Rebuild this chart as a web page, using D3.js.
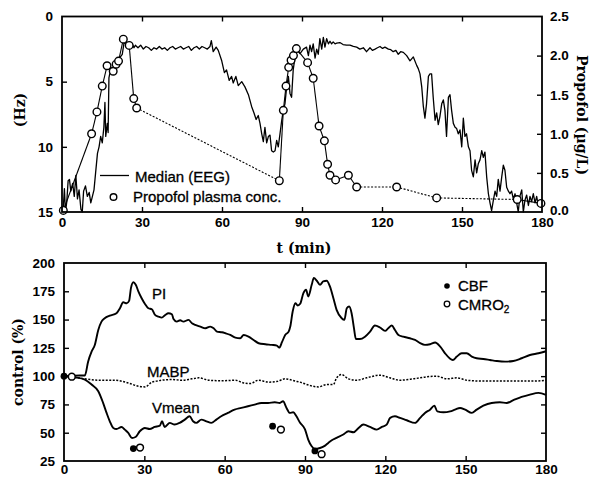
<!DOCTYPE html>
<html><head><meta charset="utf-8">
<script src="https://cdn.jsdelivr.net/npm/d3@7"></script>
<style>body{margin:0;background:#fff} svg{display:block}</style>
</head><body><svg id="c" width="599" height="478"></svg>
<script>
// ---------- DATA ----------
const timeTicks = [0, 30, 60, 90, 120, 150, 180];
const hzTicks = [0, 5, 10, 15];
const propofolTicks = [0, 0.5, 1.0, 1.5, 2.0, 2.5];
const controlTicks = [25, 50, 75, 100, 125, 150, 175, 200];

// EEG median frequency [t (min), Hz]
const eegMedian = [
[0,15],[0.5,14.6],[0.9,13.2],[1.3,15],[1.8,14.2],[2.3,12.6],[2.8,12.5],[3.3,13.4],[4,12.8],[4.6,13.8],[5.2,12.2],[5.8,14],[6.4,13.3],[7.1,14.8],[7.6,15],[8.1,13.4],[8.8,13],[9.5,13.8],[10.2,13.5],[10.8,14.3],[11.4,13.8],[12,13.3],[12.6,12],[13.3,10.5],[13.9,10],[14.5,9.2],[15.1,9.7],[15.7,8.5],[16.1,6.6],[16.4,9.2],[17,8.2],[17.3,8.9],[17.6,4.7],[18.2,4.1],[18.8,4.0],[19.5,3.9],[20.1,3.7],[20.7,3.5],[21.3,3.4],[21.9,3.1],[22.6,2.9],[23.2,2.1],[23.8,2.0],[24.4,2.4],[25,2.0],[25.6,2.3],[26.3,2.1],[27,2.4],[27.5,2.2],
[28.5,2.4],[29.5,2.2],[30.5,2.5],[31.5,2.3],[32.5,2.4],[33.5,2.6],[34.5,2.4],[35.5,2.5],[36.5,2.3],[37.5,2.5],[38.5,2.4],[39.5,2.6],[40.5,2.4],[41.5,2.3],[42.5,2.5],[43.5,2.4],[44.5,2.3],[45.5,2.5],[46.5,2.4],[47.5,2.3],[48.5,2.6],[49.5,2.4],[50.5,2.3],[51.5,2.5],[52.5,2.3],[53.5,2.4],[54.5,2.5],[55.5,2.3],
[56,1.85],[56.7,2.7],[57.8,2.35],[58.6,2.6],[59.9,3.4],[60.9,4.3],[61.7,4.1],[62.7,4.9],[63.6,4.6],[64.2,5.1],[65.2,4.6],[66.1,5.3],[67.4,5.0],[68.6,5.4],[69.9,6.0],[71.1,6.9],[72,7.4],[72.8,7.9],[73.6,7.6],[74.25,8.2],[74.9,9.0],[75.5,9.6],[76.1,8.5],[76.75,9.7],[77.4,9.2],[78,9.1],[78.6,10.3],[79.25,10.4],[79.9,10.3],[80.5,9.5],[81.1,10],[81.75,9.0],[82.4,7.96],[83,7.2],[83.6,6.7],[84.25,5.4],[84.9,4.6],[85.5,5.9],[86.1,6.2],[86.7,4.1],[87.4,3.1],[88.2,2.6],[89.25,2.85],[90.5,2.5],[91.7,2.35],[92.4,3.0],[93,2.2],[93.6,2.7],[94.2,2.1],[94.9,3.2],[95.5,2.5],[96.1,2.9],[96.7,1.7],[97.4,2.5],[98,1.6],[98.6,2.35],[99.25,1.7],[99.9,2.1],[100.5,1.9],[101.1,2.1],[101.7,1.95],[102.4,2.1],[103,2.05],[104.2,2.0],[105.4,2.15],[106.7,2.2],[108,2.2],[109.25,2.3],[110.5,2.35],[111.7,2.5],[113,2.4],[114.2,2.7],[115.5,2.4],[116.4,2.6],[117.4,2.5],[118.3,2.4],[119.25,2.3],[120.2,2.45],[121.1,2.35],[122.4,2.5],[123.3,2.55],[124.2,2.7],[125.2,2.6],[126.1,2.9],[127,2.7],[128,2.75],[129.25,3.0],[130.5,3.4],[131.75,3.1],[133,3.75],[133.6,4.0],[134.25,4.4],[134.9,5.4],[135.5,6.9],[136.1,7.8],[136.7,6.7],[137.4,4.6],[138,4.4],
[138.6,4.4],[139.2,6.2],[139.9,7.96],[140.5,7.4],[141.1,8.3],[141.7,7.7],[142.4,6.7],[143,6.4],[143.6,7.2],[144.2,9.2],[144.9,6.2],[145.5,6.0],[146.1,7.2],[146.75,8.2],[147.4,8.5],[148,8.6],[148.6,9.0],[149.25,8.7],[149.9,10],[150.5,7.8],[151.1,9.2],[151.7,9.0],[152.4,10],[153,10.3],[153.6,11.8],[154.25,12.3],[154.9,11.0],[155.5,12.0],[156.1,11.3],[156.75,11.0],[157.4,10.3],[158,10.8],[158.6,10.4],[159.25,12.3],[159.9,13.6],[160.5,14.3],[161.1,14.9],[161.75,14.1],[162.4,13.4],[163,13.8],[163.6,12.5],[164.25,13.4],[164.9,12.3],[165.5,11.4],[166.1,11.8],[166.75,13.1],[167.4,13.4],[168,13.6],[168.6,13.4],[169.25,14],[169.9,13.6],[170.5,14.3],[171.1,15],[171.7,13.8],[172.4,13.3],[173,15],[173.6,14.1],[174.25,13.7],[174.9,14.5],[175.5,13.8],[176.1,14.2],[176.75,13.6],[177.4,14.3],[178,13.8],[178.6,14.5],[179.25,14.2],[179.9,14.6]
];

// Propofol plasma concentration [t (min), ug/L]
const propofolConc = [
[0.5,0.02],[11.1,1.0],[13.1,1.28],[15.1,1.61],[16.9,1.87],[19.2,1.80],[20.3,1.89],[21.2,1.93],[23.0,2.21],[25.2,2.13],[26.9,1.45],[28.0,1.33],
[81.5,0.40],[83.0,1.30],[84.0,1.61],[85.0,1.85],[85.9,1.94],[86.8,2.0],[87.9,2.09],[92.1,1.91],[94.2,1.71],[96.4,1.10],[98.4,0.91],[99.6,0.61],[100.5,0.47],[102.6,0.41],[107.4,0.47],[110.5,0.32],[125.5,0.32],[140.5,0.18],[170.7,0.16],[179.6,0.11]
];

// % of control
const piSeries = [
[0,100],[4,100.5],[7.8,100.6],[9,112.8],[10.3,121.6],[11.5,127.5],[12.8,140.8],[14,148.2],[15.2,151.2],[17.1,153.5],[19.6,155.6],[20.9,160],[22.1,165.3],[23.4,164.4],[24.3,166.5],[25,177.8],[25.9,183],[26.8,180.7],[27.8,174.8],[29,168.9],[30.3,163.6],[31.5,160],[32.8,159.1],[34,154.1],[35.3,152.6],[36.5,151.7],[37.8,154.1],[39,155.6],[40.3,154.7],[40.9,150.5],[42.1,148.2],[43.4,149.4],[44.6,148.2],[46.5,149.7],[47.8,146.7],[49,145.3],[50.9,143.8],[52.8,142.3],[54.6,143.8],[55.9,142.3],[57.1,139.4],[59,138.8],[60.3,137.9],[62.1,136.4],[64,134.1],[65.8,133.5],[67.1,136.4],[68.9,135],[70.8,132],[72.7,129.1],[75.2,128.2],[77.6,127.6],[79.5,127],[80.4,125.2],[81.4,130],[82.6,136.4],[83.9,139.4],[84.5,143.8],[85.4,157.1],[86.4,164.4],[87.3,162.5],[88.2,164],[89.4,173.4],[90.4,176.3],[91.2,170.4],[92.5,180.7],[93.3,186.7],[94.4,184.3],[95.6,180.7],[96.8,183.7],[98.1,184.3],[99.3,179.3],[100.6,168.9],[101.8,158.6],[103.7,151.2],[104.7,149.7],[105.6,160],[106.5,161.5],[107.4,155.6],[108.3,142.3],[109,132.8],[110.5,132.8],[112.4,134.9],[114.3,139.4],[116.1,144.7],[118,143],[119.9,140],[121.1,142.3],[122.4,144.7],[123.6,140.8],[124.9,136.4],[126.7,134.9],[129.2,133.5],[131.1,132],[133,129.1],[134.8,127.6],[136.7,128.2],[138.6,129.7],[140.5,126.1],[142.3,120.2],[144,115.8],[145.2,114.3],[146.7,117.3],[148.5,120.2],[150.4,120.2],[152.3,117.3],[154.1,115.8],[156.6,115.2],[159.1,114.3],[161.6,113.4],[164.7,112.8],[167.8,113.4],[170.9,115.8],[174,118.7],[177.2,120.2],[180,122]
];
const mabpSeries = [
[0,100],[4,99],[7.8,97.6],[12.8,96.4],[19,96.4],[24,94],[27.8,91.1],[30.3,90.5],[32.8,94.7],[34.6,95.6],[36.5,96.4],[40.3,97],[44,96.4],[47.8,97.6],[50.3,98.5],[54,96.4],[59,95.9],[64,96.4],[67.1,94],[69.6,93.5],[72.7,96.4],[76.4,94.7],[79.5,95.3],[82.6,97.6],[86.4,95.6],[88.1,94.7],[91.9,91.7],[95,90.5],[98.1,92.6],[100.6,92.6],[101.8,98.5],[103.7,101.4],[106.2,97.6],[109.3,96.4],[113,98.5],[118,100.9],[121.7,98.5],[125.5,96.4],[130.5,97.6],[135.5,99.4],[139.2,100],[143,97.6],[146.7,98.5],[150.4,96.4],[156.6,95.6],[162.8,95.6],[169,95.6],[175.2,95.6],[180,96.4]
];
const vmeanSeries = [
[0,100],[4,99],[7.8,97],[10.3,92.6],[12.8,86.7],[14.6,76.4],[15.9,67.5],[17.1,60.1],[18.4,54.2],[19.6,53.3],[21.5,55.1],[22.7,52.7],[24,49.8],[25.4,45.3],[26.7,46.2],[28.3,51.3],[30.2,54.2],[32,53.3],[33.9,55.1],[35.8,56.3],[36.6,60.1],[37.6,55.1],[39.5,58.7],[41.3,57.2],[43.2,58.7],[45.1,61.6],[46.9,64.5],[48.2,60.1],[49.4,58.7],[51.3,61.6],[53.2,60.1],[55,58.7],[56.9,61.6],[58.7,64.5],[61.2,67.5],[63.7,70.4],[66.2,71.9],[68.7,73.4],[71.2,74.8],[73.7,76.3],[76.2,76.3],[78.7,76.9],[80.6,76.3],[81.8,77.8],[83.1,71.9],[84.3,67.5],[85.6,68.1],[86.8,64.5],[88.1,59],[90,53],[91.2,43.9],[92.5,38],[93.7,35.6],[95.6,36.5],[97.5,38.6],[98.7,41],[100,43.3],[101.8,45.4],[104.3,48.4],[106.2,51.3],[108.1,50.4],[110,54.2],[111.8,57.2],[114.3,55.1],[116.8,52.7],[118.7,55.1],[120.5,57.2],[121.8,63.1],[123.6,64.5],[125.5,63.1],[128,61],[131.1,58.7],[133,63.1],[134.8,67.5],[136.7,70.4],[138.3,73.9],[139.4,68.9],[141.7,68.1],[144.2,68.9],[146,70.4],[147.9,71.9],[149.8,70.4],[152.3,67.5],[154.1,70.4],[156.6,73.9],[159.7,76.3],[162.8,76.9],[165.3,76.3],[167.8,78.7],[170.9,81.6],[174,83.7],[177.2,85.2],[180,83.5]
];
const cbfPoints = [[0,100],[25.9,36],[77.9,55.8],[93.7,33.9]];
const cmro2Points = [[2.9,99.5],[28.4,36.9],[81,52.8],[96.2,31]];

// ---------- DRAW ----------
const svg = d3.select("#c");
const tickFont = "bold 13.5px 'Liberation Sans', Arial, sans-serif";
const labelFont = "bold 14px 'DejaVu Serif', serif";
const textFont = "15px 'Liberation Sans', Arial, sans-serif";

// Top panel scales
const x1 = d3.scaleLinear().domain([0,180]).range([62,542]);
const yHz = d3.scaleLinear().domain([0,15]).range([16.5,212]);
const yC = d3.scaleLinear().domain([0,2.5]).range([212,16.5]);
// Bottom panel scales
const x2 = d3.scaleLinear().domain([0,180]).range([64,546]);
const yP = d3.scaleLinear().domain([25,200]).range([461,263]);

function styleAxis(g){
  g.select(".domain").remove();
  g.selectAll(".tick line").attr("stroke","#000").attr("stroke-width",1.4);
  g.selectAll(".tick text").style("font", tickFont).attr("fill","#000");
}
function inner(vals){ return vals.slice(1, vals.length-1); }

// --- top panel axes ---
svg.append("g").attr("transform","translate(0,212)")
  .call(d3.axisBottom(x1).tickValues(timeTicks).tickSize(-5).tickPadding(5).tickFormat(d3.format("d")))
  .call(styleAxis)
  .call(g=>g.selectAll(".tick").filter(d=>d===0||d===180).select("line").remove());
svg.append("g").attr("transform","translate(0,16.5)")
  .call(d3.axisTop(x1).tickValues(inner(timeTicks)).tickSize(-5).tickFormat(""))
  .call(styleAxis);
svg.append("g").attr("transform","translate(62,0)")
  .call(d3.axisLeft(yHz).tickValues(hzTicks).tickSize(-5).tickPadding(9).tickFormat(d3.format("d")))
  .call(styleAxis)
  .call(g=>g.selectAll(".tick").filter(d=>d===0||d===15).select("line").remove());
svg.append("g").attr("transform","translate(542,0)")
  .call(d3.axisRight(yC).tickValues(propofolTicks).tickSize(-5).tickPadding(8).tickFormat(d3.format(".1f")))
  .call(styleAxis)
  .call(g=>g.selectAll(".tick").filter(d=>d===0||d===2.5).select("line").remove())
  .call(g=>g.selectAll(".tick").filter(d=>d===0).select("text").attr("dy","0.15em"));

// --- EEG line ---
svg.append("path").datum(eegMedian)
  .attr("fill","none").attr("stroke","#000").attr("stroke-width",1.3).attr("stroke-linejoin","round")
  .attr("d", d3.line().x(d=>x1(d[0])).y(d=>yHz(d[1])));

// --- propofol connecting segments ---
const segs = d3.pairs(propofolConc);
svg.append("g").selectAll("line").data(segs).join("line")
  .attr("x1",d=>x1(d[0][0])).attr("y1",d=>yC(d[0][1]))
  .attr("x2",d=>x1(d[1][0])).attr("y2",d=>yC(d[1][1]))
  .attr("stroke","#000").attr("stroke-width",1.1)
  .attr("stroke-dasharray",d=> (d[1][0]-d[0][0])>12 ? "2,1.6" : null);
svg.append("g").selectAll("circle").data(propofolConc).join("circle")
  .attr("cx",d=>x1(d[0])).attr("cy",d=>yC(d[1])).attr("r",3.8)
  .attr("fill","#fff").attr("stroke","#000").attr("stroke-width",1.4);

// top frame
svg.append("rect").attr("x",62).attr("y",16.5).attr("width",480).attr("height",195.5)
  .attr("fill","none").attr("stroke","#000").attr("stroke-width",1.8);

// top legend
svg.append("line").attr("x1",100).attr("x2",129).attr("y1",175.5).attr("y2",175.5)
  .attr("stroke","#000").attr("stroke-width",1.3);
svg.append("text").attr("x",135).attr("y",181.5).style("font",textFont).attr("stroke","#000").attr("stroke-width",0.3).text("Median (EEG)");
svg.append("circle").attr("cx",113.5).attr("cy",197).attr("r",3.3).attr("fill","#fff").attr("stroke","#000").attr("stroke-width",1.4);
svg.append("text").attr("x",133).attr("y",202).style("font",textFont).attr("stroke","#000").attr("stroke-width",0.3).text("Propofol plasma conc.");

// top axis titles
svg.append("text").attr("transform","translate(25,110) rotate(-90)").attr("text-anchor","middle")
  .style("font",labelFont).text("(Hz)");
svg.append("text").attr("transform","translate(577,115) rotate(90)").attr("text-anchor","middle")
  .style("font",labelFont).text("Propofol (µg/L)");
svg.append("text").attr("x",304).attr("y",253).attr("text-anchor","middle")
  .style("font",labelFont).text("t (min)");

// --- bottom panel axes ---
svg.append("g").attr("transform","translate(0,461)")
  .call(d3.axisBottom(x2).tickValues(timeTicks).tickSize(-5).tickPadding(3).tickFormat(d3.format("d")))
  .call(styleAxis)
  .call(g=>g.selectAll(".tick").filter(d=>d===0||d===180).select("line").remove());
svg.append("g").attr("transform","translate(0,263)")
  .call(d3.axisTop(x2).tickValues(inner(timeTicks)).tickSize(-5).tickFormat(""))
  .call(styleAxis);
svg.append("g").attr("transform","translate(64,0)")
  .call(d3.axisLeft(yP).tickValues(controlTicks).tickSize(-5).tickPadding(9).tickFormat(d3.format("d")))
  .call(styleAxis)
  .call(g=>g.selectAll(".tick").filter(d=>d===25||d===200).select("line").remove());
svg.append("g").attr("transform","translate(546,0)")
  .call(d3.axisRight(yP).tickValues(inner(controlTicks)).tickSize(-5).tickFormat(""))
  .call(styleAxis);

const lineP = d3.line().x(d=>x2(d[0])).y(d=>yP(d[1])).curve(d3.curveMonotoneX);
svg.append("path").datum(piSeries).attr("fill","none").attr("stroke","#000").attr("stroke-width",1.9).attr("d",lineP);
svg.append("path").datum(vmeanSeries).attr("fill","none").attr("stroke","#000").attr("stroke-width",1.9).attr("d",lineP);
svg.append("path").datum(mabpSeries).attr("fill","none").attr("stroke","#000").attr("stroke-width",1.5)
  .attr("stroke-dasharray","2,1.5").attr("d",lineP);

svg.append("g").selectAll("circle").data(cmro2Points).join("circle")
  .attr("cx",d=>x2(d[0])).attr("cy",d=>yP(d[1])).attr("r",3.4)
  .attr("fill","#fff").attr("stroke","#000").attr("stroke-width",1.5);
svg.append("g").selectAll("circle").data(cbfPoints).join("circle")
  .attr("cx",d=>x2(d[0])).attr("cy",d=>yP(d[1])).attr("r",3.4).attr("fill","#000");

svg.append("rect").attr("x",64).attr("y",263).attr("width",482).attr("height",198)
  .attr("fill","none").attr("stroke","#000").attr("stroke-width",1.8);

// bottom labels
function lbl(x,y,t){ return svg.append("text").attr("x",x).attr("y",y).style("font",textFont).attr("stroke","#000").attr("stroke-width",0.3).text(t); }
lbl(152,299,"PI");
lbl(147,377,"MABP");
lbl(152,413,"Vmean");
svg.append("circle").attr("cx",447).attr("cy",286).attr("r",2.8).attr("fill","#000");
lbl(458,291,"CBF");
svg.append("circle").attr("cx",447).attr("cy",304).attr("r",2.8).attr("fill","#fff").attr("stroke","#000").attr("stroke-width",1.3);
const cm = lbl(458,310,"CMRO");
cm.append("tspan").attr("dy",3).style("font-size","10px").text("2");

svg.append("text").attr("transform","translate(23,362) rotate(-90)").attr("text-anchor","middle")
  .style("font",labelFont).text("control (%)");
</script></body></html>
